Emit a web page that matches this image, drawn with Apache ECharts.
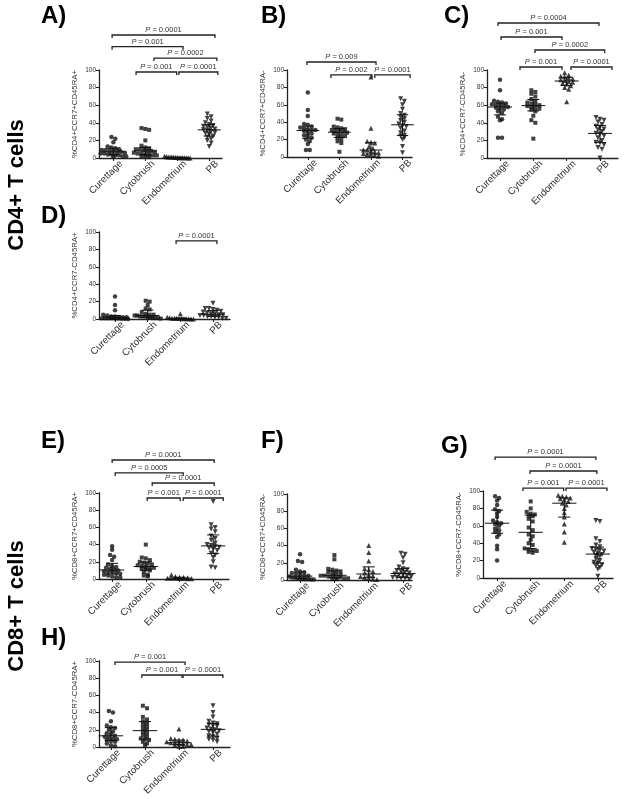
<!DOCTYPE html>
<html><head><meta charset="utf-8">
<script src="https://cdn.jsdelivr.net/npm/echarts@6/dist/echarts.min.js"></script>
<style>html,body{margin:0;padding:0;background:#fff}#c{width:624px;height:799px}</style>
</head><body><div id="c"></div>
<script>
const categories = ['Curettage', 'Cytobrush', 'Endometrium', 'PB'];
const yTicks = [0, 20, 40, 60, 80, 100];

// Panel A: %CD4+CCR7+CD45RA+
const aCur = [24, 22, 18, 13, 12, 11, 10, 9, 9, 8, 8, 7, 7, 6, 5, 5, 4, 4, 3, 3, 2, 2, 1];
const aCyt = [34, 33, 32, 20, 14, 12, 11, 10, 10, 9, 8, 8, 7, 6, 5, 5, 4, 4, 3, 3, 2, 2, 1];
const aEnd = [2, 1.5, 1.2, 1, 1, 0.8, 0.6, 0.5, 0.4, 0.3, 0.3, 0.2, 0.2, 0.1, 0.1];
const aPB = [50, 47, 45, 42, 40, 38, 37, 36, 35, 34, 33, 32, 31, 30, 29, 28, 27, 25, 24, 22, 20, 17, 13];
// Panel B: %CD4+CCR7+CD45RA-
const bCur = [74, 54, 47, 38, 37, 35, 34, 33, 32, 31, 31, 30, 28, 27, 25, 24, 22, 20, 18, 15, 8, 8];
const bCyt = [44, 43, 35, 34, 33, 32, 31, 30, 30, 29, 28, 27, 26, 25, 24, 22, 20, 18, 16, 6];
const bEnd = [92, 33, 18, 17, 16, 12, 10, 8, 8, 7, 6, 5, 4, 3, 3, 2, 1];
const bPB = [67, 64, 60, 55, 50, 48, 46, 44, 42, 40, 38, 36, 35, 33, 30, 28, 25, 24, 22, 20, 12, 5];
// Panel C: %CD4+CCR7-CD45RA-
const cCur = [89, 77, 65, 64, 63, 62, 61, 60, 60, 59, 58, 57, 56, 55, 53, 51, 47, 44, 43, 23, 23];
const cCyt = [77, 75, 73, 70, 67, 65, 63, 62, 61, 60, 59, 58, 57, 56, 55, 53, 48, 43, 40, 22];
const cEnd = [97, 94, 93, 92, 91, 90, 89, 88, 87, 86, 85, 84, 82, 80, 78, 64];
const cPB = [46, 44, 43, 41, 38, 36, 35, 33, 32, 30, 28, 27, 25, 23, 20, 18, 17, 15, 12, 10, 0];
// Panel D: %CD4+CCR7-CD45RA+
const dCur = [26, 16, 10, 5, 4, 3, 3, 2, 2, 2, 1, 1, 1, 1, 0.5, 0.5, 0.3, 0.2, 0];
const dCyt = [21, 20, 16, 12, 11, 8, 6, 5, 5, 4, 4, 3, 3, 3, 2, 2, 1, 1, 1, 0.5];
const dEnd = [6, 2, 1.5, 1, 1, 1, 0.5, 0.5, 0.3, 0.3, 0.2, 0.1, 0];
const dPB = [18, 12, 12, 11, 10, 9, 8, 7, 6, 6, 5, 5, 4, 4, 3, 3, 2, 2, 1, 1];
// Panel E: %CD8+CCR7+CD45RA+
const eCur = [38, 34, 28, 26, 22, 17, 15, 14, 13, 12, 11, 10, 9, 8, 8, 7, 6, 5, 4, 3, 2, 2];
const eCyt = [40, 25, 24, 22, 20, 19, 18, 17, 16, 15, 14, 13, 13, 12, 11, 10, 8, 5, 4, 3];
const eEnd = [5, 3, 2, 2, 1.5, 1, 1, 1, 0.5, 0.5, 0.3, 0.2];
const ePB = [90, 63, 60, 58, 55, 50, 47, 45, 42, 40, 39, 38, 37, 36, 35, 33, 30, 28, 25, 20, 14, 13];
// Panel F: %CD8+CCR7+CD45RA-
const fCur = [30, 22, 21, 12, 10, 9, 8, 7, 6, 5, 5, 4, 4, 3, 3, 2, 2, 1, 1, 1, 0.5, 0.5];
const fCyt = [29, 24, 13, 12, 11, 10, 9, 8, 7, 6, 5, 5, 4, 4, 3, 3, 2, 2, 1, 1];
const fEnd = [40, 32, 22, 13, 12, 10, 8, 6, 5, 4, 3, 2, 1, 0.5];
const fPB = [31, 30, 26, 20, 15, 13, 12, 11, 10, 9, 8, 7, 6, 6, 5, 4, 3, 3, 2, 2, 1, 1];
// Panel G: %CD8+CCR7-CD45RA-
const gCur = [94, 92, 89, 84, 79, 77, 74, 70, 66, 64, 63, 62, 60, 57, 55, 53, 50, 47, 37, 33, 20];
const gCyt = [88, 80, 76, 74, 73, 72, 71, 68, 65, 58, 55, 50, 48, 44, 40, 38, 34, 33, 32, 31, 30, 29];
const gEnd = [95, 94, 93, 92, 91, 90, 88, 86, 84, 80, 75, 70, 62, 53, 41];
const gPB = [66, 65, 45, 42, 38, 36, 34, 33, 32, 31, 30, 28, 27, 26, 25, 22, 20, 18, 17, 15, 14, 12, 10, 2];
// Panel H: %CD8+CCR7-CD45RA+
const hCur = [42, 40, 30, 25, 23, 22, 20, 18, 16, 15, 13, 12, 11, 10, 9, 8, 7, 6, 4, 2, 1];
const hCyt = [48, 45, 35, 32, 30, 28, 26, 24, 22, 20, 18, 16, 14, 12, 10, 9, 8, 6, 4, 2];
const hEnd = [21, 10, 9, 8, 8, 7, 6, 5, 5, 4, 4, 3, 3, 2, 1, 0.5];
const hPB = [48, 40, 35, 30, 28, 27, 26, 25, 24, 22, 21, 20, 19, 18, 17, 15, 13, 12, 10, 9, 8, 6];

// Significance brackets: [from (category units), to, level (y units), P value]
const bracketsA = [[0.96, 4.18, 139.8, '0.0001'], [0.96, 3.18, 126.5, '0.001'], [2.27, 4.24, 113.6, '0.0002'], [1.71, 2.98, 97.7, '0.001'], [3.05, 4.27, 97.7, '0.0001']];
const bracketsB = [[0.97, 3.16, 109.2, '0.009'], [1.73, 3.03, 94.3, '0.002'], [3.12, 4.24, 94.3, '0.0001']];
const bracketsC = [[0.94, 3.97, 153.4, '0.0004'], [1.03, 2.86, 137.5, '0.001'], [2.05, 4.14, 122.7, '0.0002'], [1.6, 2.86, 103.4, '0.001'], [3.13, 4.36, 103.4, '0.0001']];
const bracketsD = [[2.87, 4.12, 89.7, '0.0001']];
const bracketsE = [[1.0, 4.03, 138.4, '0.0001'], [1.09, 3.11, 123.3, '0.0005'], [2.19, 4.03, 111.6, '0.0001'], [2.04, 3.02, 94.2, '0.001'], [3.11, 4.30, 94.2, '0.0001']];
const bracketsF = [];
const bracketsG = [[0.94, 3.94, 139, '0.0001'], [1.98, 3.97, 123, '0.0001'], [1.77, 2.98, 103.4, '0.001'], [3.05, 4.27, 103.4, '0.0001']];
const bracketsH = [[1.12, 3.18, 98.8, '0.001'], [1.91, 3.09, 83.7, '0.001'], [3.12, 4.29, 83.7, '0.0001']];

const yNames = ['%CD4+CCR7+CD45RA+', '%CD4+CCR7+CD45RA-', '%CD4+CCR7-CD45RA-', '%CD4+CCR7-CD45RA+',
  '%CD8+CCR7+CD45RA+', '%CD8+CCR7+CD45RA-', '%CD8+CCR7-CD45RA-', '%CD8+CCR7-CD45RA+'];
const letters = ['A)', 'B)', 'C)', 'D)', 'E)', 'F)', 'G)', 'H)'];
const groupTitles = ['CD4+ T cells', 'CD8+ T cells'];

// ---- layout ----
const FONT = 'Liberation Sans, Arial, sans-serif';
const panels = [
  {data: [aCur, aCyt, aEnd, aPB], br: bracketsA, grid: {left: 99, top: 70, width: 123, height: 88}, xr: [0.55, 4.4], lp: [41, 4]},
  {data: [bCur, bCyt, bEnd, bPB], br: bracketsB, grid: {left: 287, top: 70, width: 125, height: 87}, xr: [0.34, 4.3], lp: [261, 4]},
  {data: [cCur, cCyt, cEnd, cPB], br: bracketsC, grid: {left: 487, top: 70, width: 131, height: 88}, xr: [0.61, 4.54], lp: [444, 4]},
  {data: [dCur, dCyt, dEnd, dPB], br: bracketsD, grid: {left: 99, top: 232, width: 131, height: 87}, xr: [0.51, 4.52], lp: [41, 204]},
  {data: [eCur, eCyt, eEnd, ePB], br: bracketsE, grid: {left: 99, top: 493, width: 130, height: 86}, xr: [0.61, 4.47], lp: [41, 429]},
  {data: [fCur, fCyt, fEnd, fPB], br: bracketsF, grid: {left: 287, top: 494, width: 125, height: 86}, xr: [0.62, 4.26], lp: [261, 429]},
  {data: [gCur, gCyt, gEnd, gPB], br: bracketsG, grid: {left: 483, top: 491, width: 130, height: 87}, xr: [0.58, 4.45], lp: [441, 434]},
  {data: [hCur, hCyt, hEnd, hPB], br: bracketsH, grid: {left: 99, top: 661, width: 131, height: 86}, xr: [0.65, 4.5], lp: [41, 626]}
];
const symbols = ['circle', 'rect', 'triangle', 'path://M0,0 L10,0 L5,9 Z'];
const symSizes = [4.5, 4, 5, 5];

function quantile(s, p) {
  let pos = (s.length + 1) * p - 1;
  if (pos < 0) pos = 0;
  if (pos > s.length - 1) pos = s.length - 1;
  const lo = Math.floor(pos), hi = Math.ceil(pos);
  return s[lo] + (s[hi] - s[lo]) * (pos - lo);
}
function spread(values, cat) {
  const s = values.slice().sort((a, b) => b - a);
  const out = [];
  let i = 0;
  const BIN = 3.6;
  while (i < s.length) {
    let j = i;
    while (j < s.length && s[i] - s[j] < BIN) j++;
    const k = j - i;
    const step = Math.min(0.12, 0.8 / Math.max(k - 1, 1));
    for (let m = 0; m < k; m++) out.push([cat + (m - (k - 1) / 2) * step, s[i + m]]);
    i = j;
  }
  return out;
}

const grid = [], xAxis = [], yAxis = [], series = [], graphic = [];
panels.forEach((p, pi) => {
  grid.push(Object.assign({containLabel: false}, p.grid));
  xAxis.push({
    type: 'value', gridIndex: pi, min: p.xr[0], max: p.xr[1],
    splitLine: {show: false},
    axisLine: {show: true, lineStyle: {color: '#222', width: 1.3}},
    axisTick: {show: true, customValues: [1, 2, 3, 4], length: 3, lineStyle: {color: '#222', width: 1.1}},
    axisLabel: {show: true, customValues: [1, 2, 3, 4], rotate: 45, margin: 12, fontSize: 9.8, color: '#333', fontFamily: FONT,
      padding: [0, -11, 0, 0],
      formatter: v => categories[Math.round(v) - 1] || ''}
  });
  yAxis.push({
    type: 'value', gridIndex: pi, min: 0, max: 100, interval: 20,
    name: yNames[pi], nameLocation: 'middle', nameGap: 20, nameRotate: 90,
    nameTextStyle: {fontSize: 7.8, color: '#333', fontFamily: FONT},
    splitLine: {show: false},
    axisLine: {show: true, lineStyle: {color: '#222', width: 1.3}},
    axisTick: {show: true, length: 3, lineStyle: {color: '#222', width: 1.1}},
    axisLabel: {fontSize: 6.5, color: '#333', margin: 3, fontFamily: FONT}
  });
  const stats = [];
  p.data.forEach((vals, ci) => {
    series.push({
      type: 'scatter', xAxisIndex: pi, yAxisIndex: pi,
      symbol: symbols[ci], symbolSize: symSizes[ci],
      itemStyle: {color: '#111'},
      data: spread(vals, ci + 1), silent: true, animation: false
    });
    const s = vals.slice().sort((a, b) => a - b);
    stats.push([ci + 1, quantile(s, 0.5), quantile(s, 0.25), quantile(s, 0.75)]);
  });
  series.push({
    type: 'custom', xAxisIndex: pi, yAxisIndex: pi, animation: false, silent: true,
    encode: {x: 0, y: [1, 2, 3]},
    data: stats,
    renderItem: (params, api) => {
      const x = api.value(0), md = api.value(1), q1 = api.value(2), q3 = api.value(3);
      const L = (a, b, y) => { const p1 = api.coord([a, y]), p2 = api.coord([b, y]); return {type: 'line', shape: {x1: p1[0], y1: p1[1], x2: p2[0], y2: p2[1]}, style: {stroke: '#111', lineWidth: 1}}; };
      const v1 = api.coord([x, q1]), v2 = api.coord([x, q3]);
      return {type: 'group', children: [
        L(x - 0.36, x + 0.36, md), L(x - 0.18, x + 0.18, q1), L(x - 0.18, x + 0.18, q3),
        {type: 'line', shape: {x1: v1[0], y1: v1[1], x2: v2[0], y2: v2[1]}, style: {stroke: '#111', lineWidth: 1}}
      ]};
    }
  });
  if (p.br.length) {
    series.push({
      type: 'custom', xAxisIndex: pi, yAxisIndex: pi, animation: false, silent: true, clip: false,
      encode: {x: [0, 1], y: 2},
      data: p.br.map(b => [b[0], b[1], b[2]]),
      renderItem: (params, api) => {
        const lab = p.br[params.dataIndex][3];
        const a = api.coord([api.value(0), api.value(2)]), b = api.coord([api.value(1), api.value(2)]);
        return {type: 'group', children: [
          {type: 'polyline', shape: {points: [[a[0], a[1] + 3], [a[0], a[1]], [b[0], b[1]], [b[0], b[1] + 3]]},
            style: {stroke: '#222', lineWidth: 1.3, fill: null}},
          {type: 'text', x: (a[0] + b[0]) / 2, y: a[1] - 1,
            style: {text: '{i|P}{n| = ' + lab + '}', align: 'center', verticalAlign: 'bottom',
              rich: {i: {fontStyle: 'italic', fontSize: 7.5, fontFamily: FONT, fill: '#333'}, n: {fontSize: 7.5, fontFamily: FONT, fill: '#333'}}}}
        ]};
      }
    });
  }
  graphic.push({type: 'text', left: p.lp[0], top: p.lp[1], style: {text: letters[pi], fontSize: 24, fontWeight: 'bold', fontFamily: FONT, fill: '#000'}});
});
graphic.push({type: 'text', x: 17, y: 185, rotation: Math.PI / 2, style: {text: groupTitles[0], fontSize: 22, fontWeight: 'bold', fontFamily: FONT, fill: '#000', align: 'center', verticalAlign: 'middle'}});
graphic.push({type: 'text', x: 17, y: 606, rotation: Math.PI / 2, style: {text: groupTitles[1], fontSize: 22, fontWeight: 'bold', fontFamily: FONT, fill: '#000', align: 'center', verticalAlign: 'middle'}});

const chart = echarts.init(document.getElementById('c'), null, {renderer: 'canvas'});
chart.setOption({backgroundColor: '#fff', animation: false, textStyle: {fontFamily: FONT}, grid, xAxis, yAxis, series, graphic});
</script></body></html>
